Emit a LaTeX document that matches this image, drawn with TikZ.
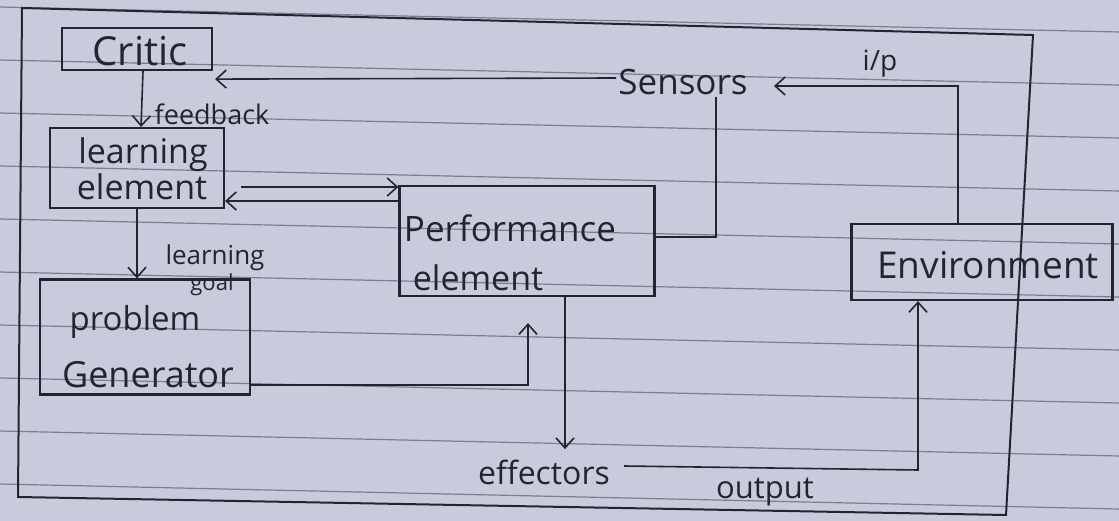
\documentclass[tikz,border=0pt]{standalone}
\usepackage{fontspec}
\setmainfont{Open Sans}
\usetikzlibrary{arrows.meta,calc}
\definecolor{paper}{RGB}{200,203,219}
\definecolor{rulecol}{RGB}{122,126,146}
\definecolor{ink}{RGB}{36,36,46}
\begin{document}
\begin{tikzpicture}[x=1pt,y=-1pt,
  box/.style={draw=ink,line width=2.2pt,inner sep=0pt},
  conn/.style={draw=ink,line width=1.6pt},
  arr/.style={conn,-{Straight Barb[length=10pt,width=18pt,line width=1.6pt]}},
  lbl/.style={text=ink,font=\fontsize{#1}{#1}\selectfont,inner sep=2pt},
  lbl/.default=32]
\useasboundingbox (0,0) rectangle (1119,521);
\fill[paper] (0,0) rectangle (1119,521);
% ruled paper lines
\begin{scope}
\clip (0,0) rectangle (1119,521);
\foreach \k in {-1,...,9}{
  \draw[rulecol,line width=1.2pt] (0,{60+53*\k}) -- (1119,{85+53*\k});
}
\end{scope}
% outer frame
\draw[ink,line width=2pt] (22,8) -- (1033,35) -- (1006,515) -- (18,497) -- cycle;
% boxes
\node[box,minimum width=150,minimum height=42] (critic) at (137,49) {};
\node[box,minimum width=174,minimum height=80] (learn) at (137,168) {};
\node[box,minimum width=210,minimum height=115] (problem) at (145,337) {};
\node[box,minimum width=255,minimum height=110] (perf) at (527,241) {};
\node[box,minimum width=261,minimum height=76] (env) at (982,262) {};
% box texts
\node[lbl=40] (tcritic) at (140,51) {Critic};
\node[lbl=34] (tlearn1) at (143,155) {learning};
\node[lbl=34] (tlearn2) at (142,187) {element};
\node[lbl=33] (tprob1) at (135,322) {problem};
\node[lbl=36] (tprob2) at (148,375) {Generator};
\node[lbl=35] (tperf1) at (510,228) {Performance};
\node[lbl=34] (tperf2) at (478,278) {element};
\node[lbl=37] (tenv) at (988,265) {Environment};
% free labels
\node[lbl=35] (sensors) at (683,82) {Sensors};
\node[lbl=32] (effectors) at (544,472) {effectors};
\node[lbl=31] (output) at (765,492) {output};
\node[lbl=28] (ip) at (880,64) {i/p};
\node[lbl=27] (feedback) at (212,114) {feedback};
\node[lbl=26,inner sep=0pt] (lgoal) at (215,258) {learning};
\node[lbl=22,inner sep=0pt] (lgoal2) at (212,285) {goal};
% helper coordinates
\coordinate (ipc) at (958,86);
\coordinate (outc) at (918,470);
\coordinate (perfup) at (716,237);
% connectors
\draw[arr] (sensors.west |- 0,78) -- ($(critic.south east)+(2,8)$);
\draw[arr] (env.north -| ipc) -- (ipc) -- (774,86);
\draw[conn] (perf.east |- perfup) -- (perfup) -- (perfup |- sensors.south);
\draw[arr] ($(critic.south)+(6,0)$) -- ($(learn.north)+(4,0)$);
\draw[arr] ($(learn.east)+(16,19)$) -- ($(perf.west |- learn.east)+(0,19)$);
\draw[arr] ($(perf.west |- learn.east)+(0,33)$) -- ($(learn.east)+(0,33)$);
\draw[arr] (learn.south) -- ($(problem.north)+(-8,0)$);
\draw[arr] ($(problem.east)+(0,48)$) -| ($(perf.south)+(1,26)$);
\draw[arr] ($(perf.south)+(38,0)$) -- ($(perf.south)+(38,152)$);
\draw[arr] ($(effectors.east)+(12,-6)$) -- (outc) -- (env.south -| outc);
\end{tikzpicture}
\end{document}
